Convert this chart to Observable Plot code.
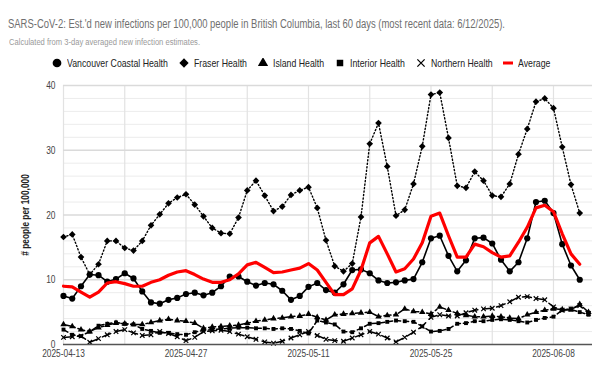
<!DOCTYPE html>
<html><head><meta charset="utf-8">
<script src="https://cdn.jsdelivr.net/npm/d3@7"></script>
<script src="https://cdn.jsdelivr.net/npm/@observablehq/plot@0.6"></script>
<style>
body{margin:0;background:#fff;font-family:"Liberation Sans",Arial,sans-serif;}
#wrap{position:relative;width:611px;height:377px;overflow:hidden;background:#fff;}
#title{position:absolute;left:8px;top:17px;font-size:12.5px;line-height:14px;color:#6f6f6f;white-space:nowrap;transform-origin:0 50%;}
#sub{position:absolute;left:9px;top:38px;font-size:8.5px;line-height:9px;color:#9a9a9a;white-space:nowrap;transform-origin:0 50%;}
#legend{position:absolute;left:0;top:55px;width:611px;height:16px;display:flex;justify-content:flex-start;align-items:center;padding-left:52px;box-sizing:border-box;font-size:11.5px;color:#222;}
#legend .it{display:flex;align-items:center;margin-right:11px;white-space:nowrap;}
#legend svg{margin-right:5px;flex:none;}
#legend .tw{display:inline-block;overflow:visible;}
#legend .tx{display:inline-block;transform-origin:0 50%;}
#chart{position:absolute;left:0;top:75px;}
g[aria-label="y-axis label"] text{font-weight:bold;fill:#222;}
</style>
</head><body>
<div id="wrap">
<div id="title"></div>
<div id="sub"></div>
<div id="legend"></div>
<div id="chart"></div>
</div>
<script>
const titleText = "SARS-CoV-2: Est.'d new infections per 100,000 people in British Columbia, last 60 days (most recent data: 6/12/2025).";
const subtitleText = "Calculated from 3-day averaged new infection estimates.";
const yLabel = "# people per 100,000";

const startDay = "2025-04-13";
const seriesNames = ["Vancouver Coastal Health", "Fraser Health", "Island Health", "Interior Health", "Northern Health", "Average"];

const vancouverCoastal = [7.5,7.1,9.0,10.8,10.7,9.7,10.1,11.0,10.2,8.2,
  6.5,6.3,6.9,7.2,7.8,8.0,7.6,8.0,9.0,10.5,
  10.5,9.7,9.1,9.5,9.3,8.3,6.9,7.5,8.9,9.5,
  8.4,8.0,9.3,11.5,11.6,11.0,9.9,9.5,9.6,9.9,
  10.1,12.7,16.4,16.8,13.7,11.3,13.0,16.4,16.5,15.6,
  13.1,11.3,12.7,16.4,22.0,22.2,20.3,15.5,12.2,10.0];
const fraser = [16.6,17.0,13.5,10.8,12.4,16.0,16.0,14.9,14.5,16.0,
  18.4,20.1,21.8,22.7,23.2,21.6,19.8,18.0,17.2,17.1,
  19.6,23.8,25.3,23.0,20.6,21.3,23.1,23.8,24.3,21.1,
  16.1,12.1,11.3,12.5,19.7,31.0,34.2,27.5,19.9,20.8,
  24.8,30.6,38.6,38.9,31.9,24.5,24.2,26.7,25.3,23.0,
  22.8,24.8,29.4,33.3,37.5,38.0,36.5,30.5,24.7,20.3];
const island = [3.1,2.8,2.3,2.0,2.6,3.0,3.3,3.2,3.1,3.1,
  3.4,3.7,3.9,3.7,3.6,3.3,2.5,2.7,2.8,2.9,
  3.0,3.3,3.6,3.8,4.0,4.1,4.3,4.4,4.7,4.2,
  3.8,4.6,4.7,4.8,4.9,5.0,4.3,4.5,4.6,5.5,
  5.1,5.0,4.7,5.8,5.3,4.8,4.5,4.3,4.3,4.4,
  4.3,4.1,4.0,4.6,5.0,5.3,5.5,5.4,5.4,6.2,
  5.0];
const interior = [2.3,1.5,1.3,2.0,2.9,3.2,3.4,3.2,3.1,2.4,
  2.1,1.8,1.8,1.6,1.5,1.9,2.2,2.3,2.4,2.5,
  2.6,2.6,2.5,2.5,2.4,2.5,2.4,2.1,1.7,3.7,
  3.4,3.1,2.0,1.9,2.5,3.2,3.3,3.5,3.7,3.6,
  3.5,2.8,2.0,2.1,2.4,3.2,3.3,3.6,3.6,3.8,
  3.9,3.8,3.6,3.4,3.8,4.1,4.3,5.3,5.4,5.0,
  4.6];
const northern = [1.1,1.2,1.3,0.35,0.9,1.5,2.0,2.3,1.8,1.4,
  1.5,2.0,1.7,1.2,0.6,1.1,2.0,2.1,2.2,2.0,
  1.6,1.2,0.8,0.4,0.2,0.5,1.0,1.5,2.0,1.4,
  0.8,0.6,0.5,1.0,1.5,2.0,1.6,1.0,0.4,1.1,
  1.9,2.8,4.2,4.6,4.4,4.4,4.9,5.3,5.5,5.6,
  6.0,6.6,7.3,7.4,7.1,6.9,5.8,5.3,5.5,6.0,
  4.8];
const average = [9.0,8.9,8.1,7.3,8.1,9.5,9.7,9.4,9.0,9.0,
  9.6,10.0,10.7,11.2,11.4,10.8,10.1,9.6,9.6,10.0,
  10.9,12.3,12.7,11.9,11.1,11.2,11.5,11.8,12.5,11.5,
  9.6,7.7,7.7,8.6,11.5,15.7,16.7,14.0,11.2,11.7,
  13.2,15.7,19.8,20.3,16.8,13.5,13.5,15.5,15.1,14.2,
  13.5,13.7,15.8,18.1,21.1,21.5,20.5,17.1,14.0,12.4];

const xTickLabels = ["2025-04-13","2025-04-27","2025-05-11","2025-05-25","2025-06-08"];
const weeklyGrid = ["2025-04-13","2025-04-20","2025-04-27","2025-05-04","2025-05-11","2025-05-18","2025-05-25","2025-06-01","2025-06-08"];
const yTicks = [0,10,20,30,40];
const yMinorGrid = [2,4,6,8,12,14,16,18,22,24,26,28,32,34,36,38];

// styles (kept separate from data)
const styles = {
  "Vancouver Coastal Health": {stroke:"#000", width:1.6, dash:null, symbol:"circle", r:3.1},
  "Fraser Health": {stroke:"#000", width:1.4, dash:"1.2,2.3", symbol:"diamond2", r:3.0},
  "Island Health": {stroke:"#000", width:1.5, dash:"7,3,2,3", symbol:"triangle", r:2.4},
  "Interior Health": {stroke:"#000", width:1.5, dash:"5,3", symbol:"square", r:2.2},
  "Northern Health": {stroke:"#000", width:1.5, dash:"9,5", symbol:"times", r:2.2},
  "Average": {stroke:"#ff0000", width:3.2, dash:null, symbol:null, r:0}
};
const TEXT_SQUEEZE = 0.76;

const seriesValues = [vancouverCoastal, fraser, island, interior, northern, average];
const parse = d3.utcParse("%Y-%m-%d");
const t0 = parse(startDay);
const rows = [];
seriesNames.forEach((name, i) => {
  seriesValues[i].forEach((v, d) => rows.push({series: name, date: d3.utcDay.offset(t0, d), value: v}));
});

// header
const titleEl = document.getElementById("title");
titleEl.textContent = titleText;
titleEl.style.transform = `scaleX(${497 / titleEl.getBoundingClientRect().width})`;
const subEl = document.getElementById("sub");
subEl.textContent = subtitleText;
subEl.style.transform = `scaleX(${191 / subEl.getBoundingClientRect().width})`;

const leg = d3.select("#legend");
seriesNames.forEach(name => {
  const s = styles[name];
  const it = leg.append("div").attr("class","it");
  const svg = it.append("svg").attr("width", 10).attr("height", 10);
  if (s.symbol) {
    const symMap = {circle:d3.symbolCircle, diamond2:d3.symbolDiamond2, triangle:d3.symbolTriangle, square:d3.symbolSquare, times:d3.symbolTimes};
    const size = {circle:60, diamond2:55, triangle:45, square:42, times:36}[s.symbol];
    const p = svg.append("path").attr("transform","translate(5,5)").attr("d", d3.symbol(symMap[s.symbol], size)());
    if (s.symbol === "times") p.attr("fill","none").attr("stroke","#000").attr("stroke-width",1.3);
    else p.attr("fill","#000");
  } else {
    svg.append("rect").attr("x",0).attr("y",3.5).attr("width",10).attr("height",3).attr("fill","#ff0000");
  }
  const tw = it.append("span").attr("class","tw");
  const tx = tw.append("span").attr("class","tx").text(name);
  const w = tx.node().getBoundingClientRect().width;
  tw.style("width", (w * TEXT_SQUEEZE) + "px");
  tx.style("transform", `scaleX(${TEXT_SQUEEZE})`);
});

const lineMarks = [];
["Island Health","Interior Health","Northern Health","Vancouver Coastal Health","Fraser Health","Average"].forEach(name => {
  const s = styles[name];
  const data = rows.filter(r => r.series === name);
  lineMarks.push(Plot.line(data, {x:"date", y:"value", stroke:s.stroke, strokeWidth:s.width, strokeDasharray:s.dash ?? undefined, curve:"linear"}));
  if (s.symbol) {
    if (s.symbol === "times") lineMarks.push(Plot.dot(data, {x:"date", y:"value", symbol:"times", r:s.r, stroke:"#000", strokeWidth:1.2}));
    else lineMarks.push(Plot.dot(data, {x:"date", y:"value", symbol:s.symbol, r:s.r, fill:"#000", stroke:"none"}));
  }
});

const chart = Plot.plot({
  width: 611, height: 302,
  marginLeft: 63, marginRight: 19, marginTop: 10, marginBottom: 33,
  style: {fontFamily: "'Liberation Sans', Arial, sans-serif", fontSize: "11px", color: "#444", background: "#fff"},
  x: {type: "utc", domain: [t0, d3.utcHour.offset(t0, 60*24 + 11)]},
  y: {domain: [0, 40]},
  marks: [
    Plot.ruleY(yMinorGrid, {stroke: "#ececec", strokeWidth: 1}),
    Plot.ruleX(weeklyGrid.map(parse), {stroke: "#e2e2e2", strokeWidth: 1.2}),
    Plot.ruleY(yTicks.filter(v => v > 0), {stroke: "#dadada", strokeWidth: 1.6}),
    Plot.axisX({ticks: xTickLabels.map(parse), tickFormat: d3.utcFormat("%Y-%m-%d"), tickSize: 0, tickPadding: 5, label: null}),
    Plot.axisY({ticks: yTicks, tickSize: 0, tickPadding: 8, label: yLabel, labelAnchor: "center", labelArrow: "none", labelOffset: 42}),
    ...lineMarks,
    Plot.ruleY([0], {stroke: "#555", strokeWidth: 1.3})
  ]
});
// squeeze axis texts horizontally about their anchor (matches the narrow type of the reference)
d3.select(chart).selectAll('g[aria-label$="tick label"] text, g[aria-label="y-axis label"] text').each(function() {
  const x = +this.getAttribute("x") || 0, y = +this.getAttribute("y") || 0;
  const tr = this.getAttribute("transform") || "";
  this.setAttribute("transform", `${tr} translate(${x},${y}) scale(${TEXT_SQUEEZE},1) translate(${-x},${-y})`);
});
document.getElementById("chart").appendChild(chart);
</script>
</body></html>
